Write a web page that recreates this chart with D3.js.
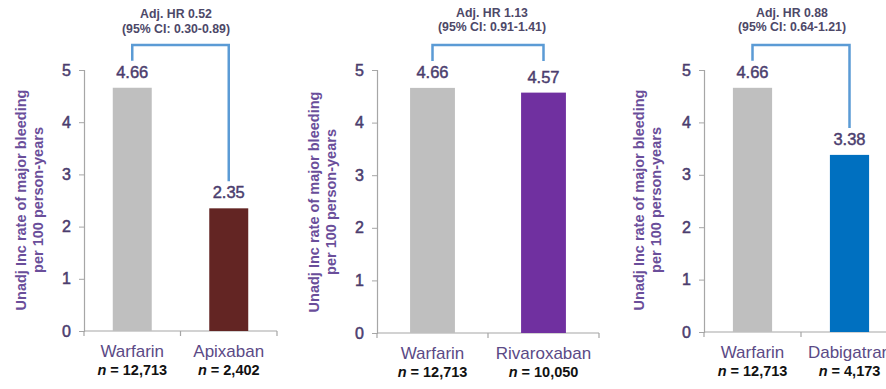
<!DOCTYPE html>
<html>
<head>
<meta charset="utf-8">
<script src="https://cdn.jsdelivr.net/npm/d3@7/dist/d3.min.js"></script>
<style>
  html, body { margin: 0; padding: 0; background: #fff; }
  svg { display: block; font-family: "Liberation Sans", Arial, sans-serif; }
</style>
</head>
<body>
<svg id="chart" width="886" height="389"></svg>
<script>
// Unadjusted incidence of major bleeding per 100 person-years: warfarin vs each NOAC
const drugs = ["Apixaban", "Rivaroxaban", "Dabigatran"];
const warfarinRate = [4.66, 4.66, 4.66];
const comparatorRate = [2.35, 4.57, 3.38];
const warfarinN = ["12,713", "12,713", "12,713"];
const comparatorN = ["2,402", "10,050", "4,173"];
const adjHR = ["0.52", "1.13", "0.88"];
const ciRange = ["0.30-0.89", "0.91-1.41", "0.64-1.21"];
const yTicks = [0, 1, 2, 3, 4, 5];

// Panel geometry (plot area edges, title and axis-title anchors)
const panels = [
  { left: 84,  right: 277, bottom: 331, top: 70, titleX: 176, titleY: [18, 33], yTitleX: 21,  yTitleY: 200, color: "#632523" },
  { left: 377, right: 599, bottom: 333, top: 70, titleX: 492, titleY: [17, 31], yTitleX: 314, yTitleY: 202, color: "#7030a0" },
  { left: 704, right: 898, bottom: 332, top: 70, titleX: 792, titleY: [17, 31], yTitleX: 639, yTitleY: 200, color: "#0070c0" }
];

const svg = d3.select("#chart");
const axisGray = "#a6a6a6";
const tickText = "#4b3d6e";
const catText = "#5b4a86";
const titleText = "#4d4868";
const yTitleColor = "#6a4e9a";
const bracketBlue = "#5b9bd5";

panels.forEach((p, i) => {
  const g = svg.append("g");
  const cats = ["Warfarin", drugs[i]];
  const vals = [warfarinRate[i], comparatorRate[i]];
  const ns = [warfarinN[i], comparatorN[i]];
  const colors = ["#bfbfbf", p.color];

  const x = d3.scaleBand().domain(cats).range([p.left, p.right])
    .paddingInner(0.596).paddingOuter(0.298);
  const y = d3.scaleLinear().domain([0, 5]).range([p.bottom, p.top]);

  // y axis
  const yAxis = g.append("g")
    .attr("transform", `translate(${p.left},0)`)
    .call(d3.axisLeft(y).tickValues(yTicks).tickFormat(d3.format("d")).tickSize(5).tickPadding(8));
  yAxis.select(".domain").attr("stroke", axisGray).attr("stroke-width", 1.2);
  yAxis.selectAll(".tick line").attr("stroke", axisGray);
  yAxis.selectAll(".tick text")
    .attr("fill", tickText).attr("stroke", tickText).attr("stroke-width", 0.5)
    .attr("font-size", 16)
    .attr("font-family", "Liberation Sans, Arial, sans-serif");

  // x axis baseline with category boundary ticks
  g.append("line")
    .attr("x1", p.left).attr("x2", p.right)
    .attr("y1", p.bottom).attr("y2", p.bottom)
    .attr("stroke", axisGray).attr("stroke-width", 1.2);
  const bounds = [p.left, p.left + x.step(), p.right];
  g.selectAll(".xtick").data(bounds).join("line")
    .attr("x1", d => d).attr("x2", d => d)
    .attr("y1", p.bottom).attr("y2", p.bottom + 5)
    .attr("stroke", axisGray).attr("stroke-width", 1.2);

  // bars
  g.selectAll(".bar").data(vals).join("rect")
    .attr("x", (d, j) => x(cats[j]))
    .attr("width", x.bandwidth())
    .attr("y", d => y(d))
    .attr("height", d => y(0) - y(d))
    .attr("fill", (d, j) => colors[j]);

  // value labels
  g.selectAll(".val").data(vals).join("text")
    .attr("x", (d, j) => x(cats[j]) + x.bandwidth() / 2)
    .attr("y", d => y(d) - 10)
    .attr("text-anchor", "middle")
    .attr("font-size", 16.5)
    .attr("fill", tickText).attr("stroke", tickText).attr("stroke-width", 0.45)
    .text(d => d.toFixed(2));

  // category labels
  g.selectAll(".cat").data(cats).join("text")
    .attr("x", d => x(d) + x.bandwidth() / 2)
    .attr("y", p.bottom + 26)
    .attr("text-anchor", "middle")
    .attr("font-size", 17)
    .attr("fill", catText)
    .text(d => d);

  // sample sizes
  const nText = g.selectAll(".n").data(ns).join("text")
    .attr("x", (d, j) => x(cats[j]) + x.bandwidth() / 2)
    .attr("y", p.bottom + 44)
    .attr("text-anchor", "middle")
    .attr("font-size", 14.5).attr("font-weight", "bold")
    .attr("fill", "#111");
  nText.append("tspan").attr("font-style", "italic").text("n");
  nText.append("tspan").text(d => " = " + d);

  // hazard-ratio bracket
  const close = Math.abs(vals[0] - vals[1]) < 0.2;
  const ends = vals.map(v => (close ? y(d3.max(vals)) : y(v)) - 27);
  const bx = cats.map(c => x(c) + x.bandwidth() / 2);
  const topY = 45;
  g.append("path")
    .attr("d", d3.line()([[bx[0], ends[0]], [bx[0], topY], [bx[1], topY], [bx[1], ends[1]]]))
    .attr("fill", "none")
    .attr("stroke", bracketBlue)
    .attr("stroke-width", 2.5);

  // bracket title
  g.append("text")
    .attr("x", p.titleX).attr("y", p.titleY[0])
    .attr("text-anchor", "middle").attr("font-size", 12.3).attr("font-weight", "bold")
    .attr("fill", titleText)
    .text("Adj. HR " + adjHR[i]);
  g.append("text")
    .attr("x", p.titleX).attr("y", p.titleY[1])
    .attr("text-anchor", "middle").attr("font-size", 12.3).attr("font-weight", "bold")
    .attr("fill", titleText)
    .text("(95% CI: " + ciRange[i] + ")");

  // y axis title
  const yt = g.append("text")
    .attr("transform", `translate(${p.yTitleX},${p.yTitleY}) rotate(-90)`)
    .attr("text-anchor", "middle")
    .attr("font-size", 14.5).attr("font-weight", "bold")
    .attr("fill", yTitleColor);
  yt.append("tspan").attr("x", 0).attr("dy", 5).text("Unadj Inc rate of major bleeding");
  yt.append("tspan").attr("x", 0).attr("dy", 16.5).text("per 100 person-years");
});
</script>
</body>
</html>
